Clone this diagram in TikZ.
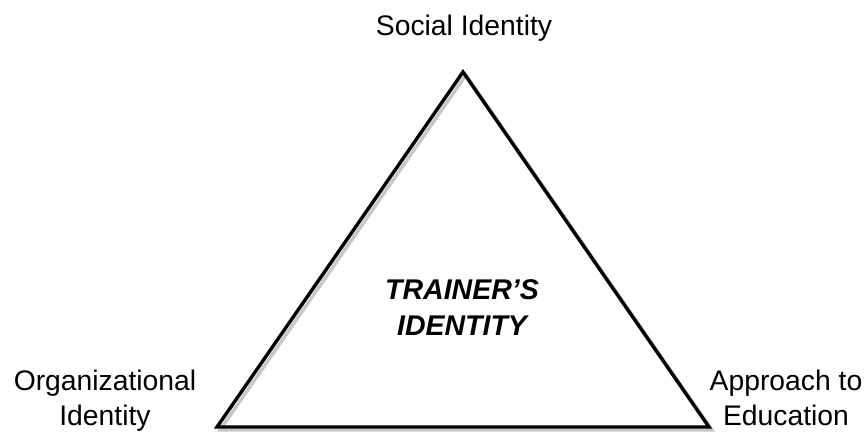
\documentclass[tikz,border=0pt]{standalone}
\usepackage{fontspec}
\setmainfont{Liberation Sans}
\usetikzlibrary{positioning,calc}
\tikzset{
  every picture/.style={line width=3.4pt, x=1pt, y=-1pt},
  tside/.style={line join=miter, draw=black},
  tshadow/.style={line join=miter, draw=black!22},
  tlabel/.style={inner sep=0pt, align=center, font=\fontsize{28.3}{35}\selectfont},
  tcore/.style={inner sep=0pt, align=center, font=\fontsize{28.5}{36}\selectfont\bfseries\itshape},
}

\begin{document}
\begin{tikzpicture}
\useasboundingbox (0,0) rectangle (865,432);
\coordinate (apex) at (463,72); \coordinate (cL) at (217,427); \coordinate (cR) at (709,427);
\draw[tshadow] ($(apex)+(3,3)$) -- ($(cL)+(3,3)$) -- ($(cR)+(3,3)$) -- cycle;
\draw[tside] (apex) -- (cL) -- (cR) -- cycle;
\node[tlabel, anchor=base] (social) at (464,35) {Social Identity};
\node[tlabel, anchor=base] (org) at (105,425) {Organizational\\Identity};
\node[tlabel, anchor=base] (edu) at (786,425) {Approach to\\Education};
\node[tcore, anchor=base] (core) at (462,335) {TRAINER’S\\IDENTITY};
\end{tikzpicture}
\end{document}
